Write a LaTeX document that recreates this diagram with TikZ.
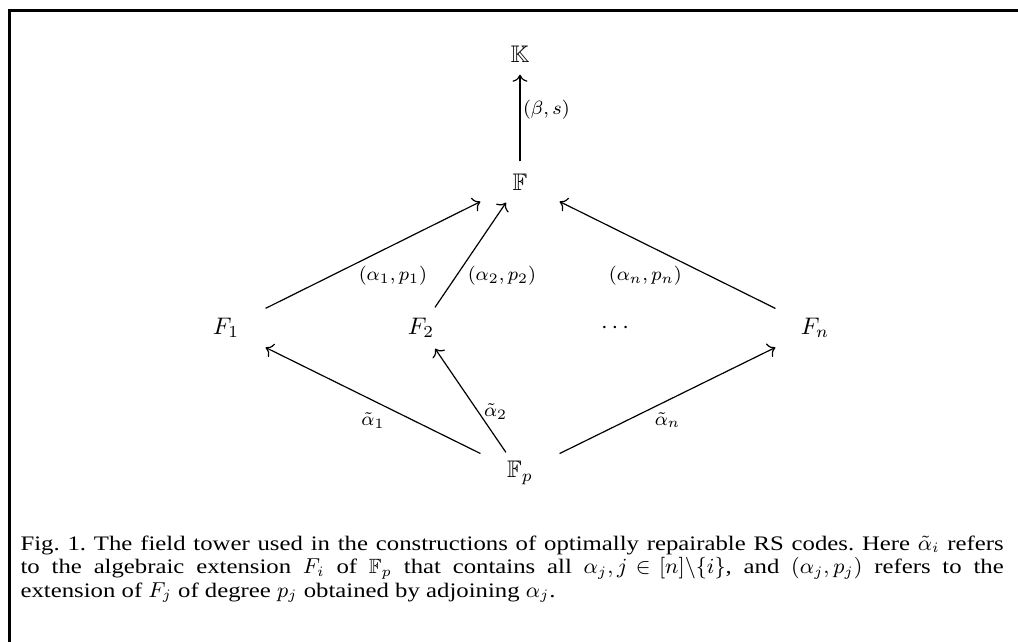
\documentclass[tikz,border=0pt]{standalone}
\usepackage[no-math]{fontspec}
\setmainfont{Liberation Serif}[FakeStretch=1.2]
\usepackage{amsmath,amssymb}
\usetikzlibrary{arrows.meta}

\begin{document}
\begin{tikzpicture}[>={To[scale=1.1]}, x=0.417pt, y=-0.417pt, line width=0.5pt,
  field/.style={minimum width=32.5pt, minimum height=16.7pt, inner sep=0pt},
  lbl/.style={font=\footnotesize, inner sep=1pt}]
  \useasboundingbox (0,0) rectangle (1018,642);
  % frame
  \draw[line width=1.25pt] (9.5,642) -- (9.5,10.5) -- (1018,10.5);
  % the tower of fields
  \node[field] (K)  at (520,54)  {$\mathbb{K}$};
  \node[field] (Fb) at (520,182) {$\mathbb{F}$};
  \node[field] (F1) at (226,328) {$F_1$};
  \node[field] (F2) at (421,328) {$F_2$};
  \node[field] (Fd) at (617,328) {$\cdots$};
  \node[field] (Fn) at (815,328) {$F_n$};
  \node[field] (Fp) at (520,473) {$\mathbb{F}_p$};
  \draw[->] (Fb) -- (K) node[lbl, pos=0.6, right] {$(\beta,s)$};
  \draw[->] (F1) -- (Fb) node[lbl, pos=0.42, anchor=north west] {$(\alpha_1,p_1)$};
  \draw[->] (F2) -- (Fb) node[lbl, pos=0.42, anchor=north west] {$(\alpha_2,p_2)$};
  \draw[->] (Fn) -- (Fb) node[lbl, pos=0.42, anchor=north east] {$(\alpha_n,p_n)$};
  \draw[->] (Fp) -- (F1) node[lbl, midway, below=3.8pt] {$\tilde{\alpha}_1$};
  \draw[->] (Fp) -- (F2) node[lbl, midway, anchor=north west, xshift=4.4pt] {$\tilde{\alpha}_2$};
  \draw[->] (Fp) -- (Fn) node[lbl, midway, below=3.8pt] {$\tilde{\alpha}_n$};
  % caption
  \node[anchor=north west, inner sep=0pt, text width=410pt, align=justify,
        font=\fontsize{8.6}{9.8}\selectfont\frenchspacing] (cap) at (20,535)
    {\thickmuskip=5mu plus 1mu\relax
     Fig.~1. The field tower used in the constructions of optimally repairable RS codes. Here $\tilde{\alpha}_i$ refers\linebreak
     to the algebraic extension $F_i$ of $\mathbb{F}_p$ that contains all $\alpha_j, j \in [n]\backslash\{i\}$, and $(\alpha_j,p_j)$ refers to the\linebreak
     extension of $F_j$ of degree $p_j$ obtained by adjoining $\alpha_j$.};
\end{tikzpicture}
\end{document}
